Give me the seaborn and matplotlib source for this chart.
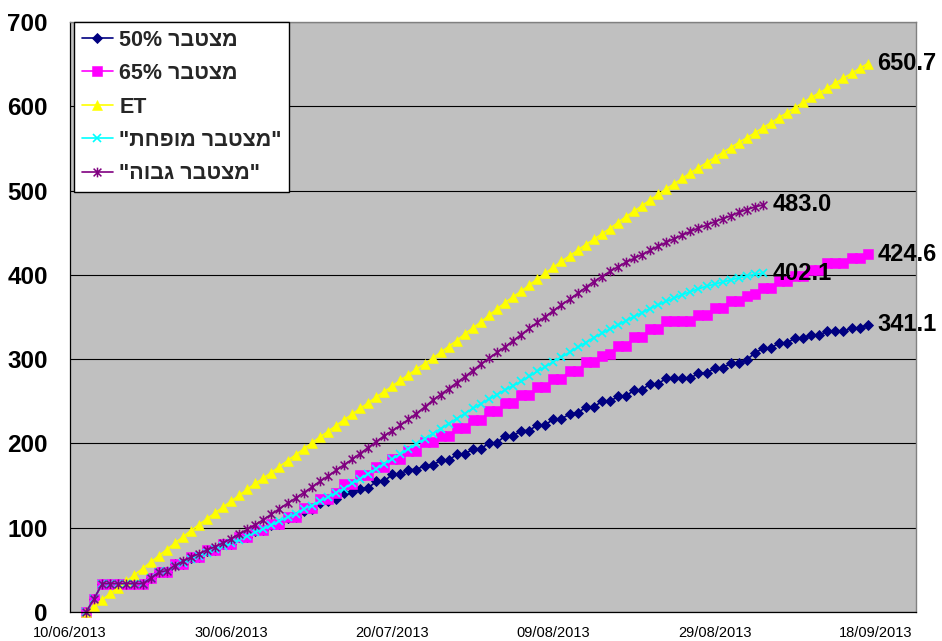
import re
import numpy as np
import pandas as pd
import matplotlib
matplotlib.use("Agg")
import matplotlib.pyplot as plt
import matplotlib.dates as mdates
from matplotlib.path import Path
import seaborn as sns

# ---------------- data ----------------
first_day = "2013-06-12"   # first daily reading

cum_50 = [0, 15.8, 33.6, 33.6, 33.6, 33.6, 33.6, 33.6, 40, 47.5,
          48, 56.5, 57, 64.5, 65, 72.5, 73, 80.5, 81, 88.5,
          89.5, 96.5, 97, 103.5, 104, 111.5, 113,
          119.5, 122, 129.5, 131.5, 133.5, 141, 142, 146.5, 147, 155,
          155, 163.5, 163.5, 169, 169, 173.5, 174, 180, 180, 187,
          187, 193.7, 193.7, 200.3, 201, 208.9, 208.9, 215.3, 215.3, 221.9,
          221.9, 229, 229, 235, 235.8, 243.1, 243.1, 249.8, 249.8, 255.7,
          255.7, 263.6, 263.6, 270.7, 270.7, 277.4, 277.4, 277.4, 277.4, 283.4,
          283.4, 289.3, 289.3, 295.3, 295.3, 299.5, 307, 313, 313, 319.4,
          319.4, 325, 325, 328.9, 328.9, 332.8, 332.8, 332.8, 336.8, 336.8, 341.1]

cum_65 = [0, 15.8, 33.6, 33.6, 33.6, 33.6, 33.6, 33.6, 40, 48,
          48, 57, 57, 65, 65, 73, 73, 81, 81, 89.5,
          89.5, 97, 97, 104, 104, 112.5, 112.5,
          123.3, 123.3, 134, 134, 141, 152, 152, 162.8, 162.8, 171.5,
          171.5, 182, 182, 191, 191, 201.2, 201.2, 209, 209, 218.2,
          218.2, 228, 228, 238, 238, 247.8, 247.8, 257.7, 257.7, 266.4,
          266.4, 276.7, 276.7, 286.2, 286.2, 296.1, 296.1, 304, 306, 316,
          316, 325.9, 325.9, 335.8, 335.8, 345.7, 345.7, 345.7, 345.7, 352.5,
          352.5, 361.2, 361.2, 369.3, 369.3, 375, 377.5, 385, 385, 392.5,
          392.5, 399, 399, 406, 406, 413.5, 413.5, 413.5, 419.5, 419.5, 424.6]

et = [0, 7, 14.5, 22, 29, 36.5, 44, 51.5, 59, 66.5,
      74, 81.5, 89, 96.5, 103.5, 110.5, 117.5, 124.5, 131.5, 138.5,
      145.5, 152.5, 159, 165.5, 172.5, 179.5, 186.5, 193.5, 200.5, 207.5,
      214, 221, 228, 234.5, 241.5, 248, 255, 261.5, 268, 275,
      281.5, 288, 294.5, 301, 308, 315, 322, 330, 337, 344,
      352, 359.5, 367, 374, 380.5, 388, 395, 402, 409, 416,
      422.5, 429, 436, 442, 448.5, 455, 462, 469, 475.5, 482,
      489, 495.5, 502, 508, 514.5, 521, 527, 533, 539, 545,
      551, 557, 562.5, 568.5, 574.5, 580.5, 586.5, 592.5, 598.5, 604.5,
      610.5, 616, 621.5, 627.5, 633.5, 639, 645, 650.7]

cum_reduced = [0, 16, 33.6, 33.6, 33.6, 33.6, 33.6, 33.6, 40, 47,
               49, 54, 58.5, 63, 67, 70.5, 74.5, 78, 82, 86,
               90, 94.5, 98.5, 103, 108, 112.5, 116, 122.5, 126, 131.5,
               136, 141.5, 146.5, 152.5, 158, 164, 170, 176, 181.5, 187.5,
               193.5, 199.5, 205.5, 211.5, 217.5, 223.5, 229.5, 235.5, 241.5, 247,
               252.5, 258, 263.5, 268.5, 273.5, 279.5, 285.5, 291, 297, 302.5,
               308, 314, 319.5, 325.5, 330.5, 335.5, 340.5, 345.5, 350.5, 355,
               360, 364.5, 368.5, 372.5, 376.5, 380, 383.5, 386.5, 389, 391.5,
               394, 396.5, 398.5, 400.5, 402.1]

cum_high = [0, 16, 33.6, 33.6, 33.6, 33.6, 33.6, 33.6, 40, 47,
            49, 55, 60, 65, 69, 73.5, 77.5, 82, 87, 92.5,
            98, 103.5, 109.5, 116, 122.5, 129, 135, 141.5, 148, 155,
            161, 168, 174.5, 181, 188, 195, 202, 209, 215, 221.5,
            228.5, 235.5, 243, 251, 258, 265, 272, 279, 286.5, 294,
            301, 308, 314.5, 322, 329, 336.5, 343.5, 350.5, 357.5, 364.5,
            371, 378, 385, 392, 398, 404, 409.5, 415, 419.5, 424,
            429, 434, 438.5, 443, 447, 451.5, 455.5, 459, 463, 466.5,
            470, 474, 477.5, 480.5, 483.0]

series_labels = ["מצטבר 50%", "מצטבר 65%", "ET", '"מצטבר מופחת"', '"מצטבר גבוה"']
series_values = [cum_50, cum_65, et, cum_reduced, cum_high]
series_colors = ["#000080", "#FF00FF", "#FFFF00", "#00FFFF", "#800080"]

x_tick_labels = ["10/06/2013", "30/06/2013", "20/07/2013", "09/08/2013", "29/08/2013", "18/09/2013"]
y_ticks = [0, 100, 200, 300, 400, 500, 600, 700]
x_start, x_end = "2013-06-10", "2013-09-23"


def visual(s):
    """Put right-to-left Hebrew text into visual (display) order."""
    if not any("\u0590" <= c <= "\u05FF" for c in s):
        return s
    r = s[::-1]
    return re.sub(r"[A-Za-z0-9%.,/]+", lambda m: m.group(0)[::-1], r)


asterisk = Path([(0, -1), (0, 1), (-0.8, -0.8), (0.8, 0.8), (-0.8, 0.8), (0.8, -0.8)],
                [Path.MOVETO, Path.LINETO, Path.MOVETO, Path.LINETO, Path.MOVETO, Path.LINETO])

styles = [
    dict(marker="D", markersize=5.4, markerfacecolor="#000080", markeredgecolor="#000080", markeredgewidth=0.6),
    dict(marker="s", markersize=6.8, markerfacecolor="#FF00FF", markeredgecolor="#FF00FF", markeredgewidth=0.4),
    dict(marker="^", markersize=7.8, markerfacecolor="#FFFF00", markeredgecolor="#FFFF00", markeredgewidth=0.4),
    dict(marker="x", markersize=6, markerfacecolor="none", markeredgecolor="#00FFFF", markeredgewidth=1.2),
    dict(marker=asterisk, markersize=7, markerfacecolor="none", markeredgecolor="#800080", markeredgewidth=1.1),
]

# ---------------- figure ----------------
sns.set_style("white")
FONT = ["Liberation Sans", "DejaVu Sans"]
plt.rcParams["font.family"] = FONT

W, H = 942, 641
fig = plt.figure(figsize=(W / 100, H / 100), dpi=100)
ax = fig.add_axes([70 / W, (H - 612) / H, (916 - 70) / W, (612 - 22) / H])
ax.set_facecolor("#C0C0C0")

for lab, vals, col, st in zip(series_labels, series_values, series_colors, styles):
    df = pd.DataFrame({"date": pd.date_range(first_day, periods=len(vals), freq="D"),
                       "value": vals})
    sns.lineplot(data=df, x="date", y="value", ax=ax, color=col, linewidth=1.2,
                 label=visual(lab), estimator=None, sort=False, clip_on=False, **st)
    last = df.iloc[-1]
    ax.annotate(f"{last['value']:.1f}", xy=(mdates.date2num(last["date"]), last["value"]),
                xytext=(7, 0), textcoords="offset points", ha="left", va="center",
                fontsize=17, fontweight="bold", color="black", annotation_clip=False,
                zorder=10)

ax.set_xlim(pd.Timestamp(x_start), pd.Timestamp(x_end))
ax.set_ylim(0, 700)
ax.set_xticks(pd.to_datetime(x_tick_labels, format="%d/%m/%Y"))
ax.set_xticklabels(x_tick_labels)
ax.set_yticks(y_ticks)
ax.set_yticklabels([str(v) for v in y_ticks])
for t in ax.get_yticklabels():
    t.set_fontweight("bold")
ax.tick_params(axis="x", direction="out", length=5, width=0.8, pad=5, labelsize=10.5, colors="black")
ax.tick_params(axis="y", direction="out", length=6, width=0.8, pad=10, labelsize=17.5, colors="black")
ax.set_xlabel("")
ax.set_ylabel("")
ax.yaxis.grid(True, color="black", linewidth=0.8)
ax.xaxis.grid(False)
ax.set_axisbelow(True)
for side in ["left", "bottom"]:
    ax.spines[side].set_color("black")
    ax.spines[side].set_linewidth(0.9)
for side in ["top", "right"]:
    ax.spines[side].set_color("#808080")
    ax.spines[side].set_linewidth(1.0)

handles, labels = ax.get_legend_handles_labels()
leg = ax.legend(handles, labels, loc="upper left", bbox_to_anchor=(0.005, 1.0),
                borderaxespad=0, frameon=True, fancybox=False, framealpha=1,
                facecolor="white", edgecolor="black", borderpad=0.35,
                labelspacing=0.58, handlelength=1.45, handletextpad=0.3,
                prop=dict(family=FONT, weight="bold", size=15.5))
leg.get_frame().set_linewidth(1.0)
leg.set_zorder(20)

fig.savefig("out.png", dpi=100)
